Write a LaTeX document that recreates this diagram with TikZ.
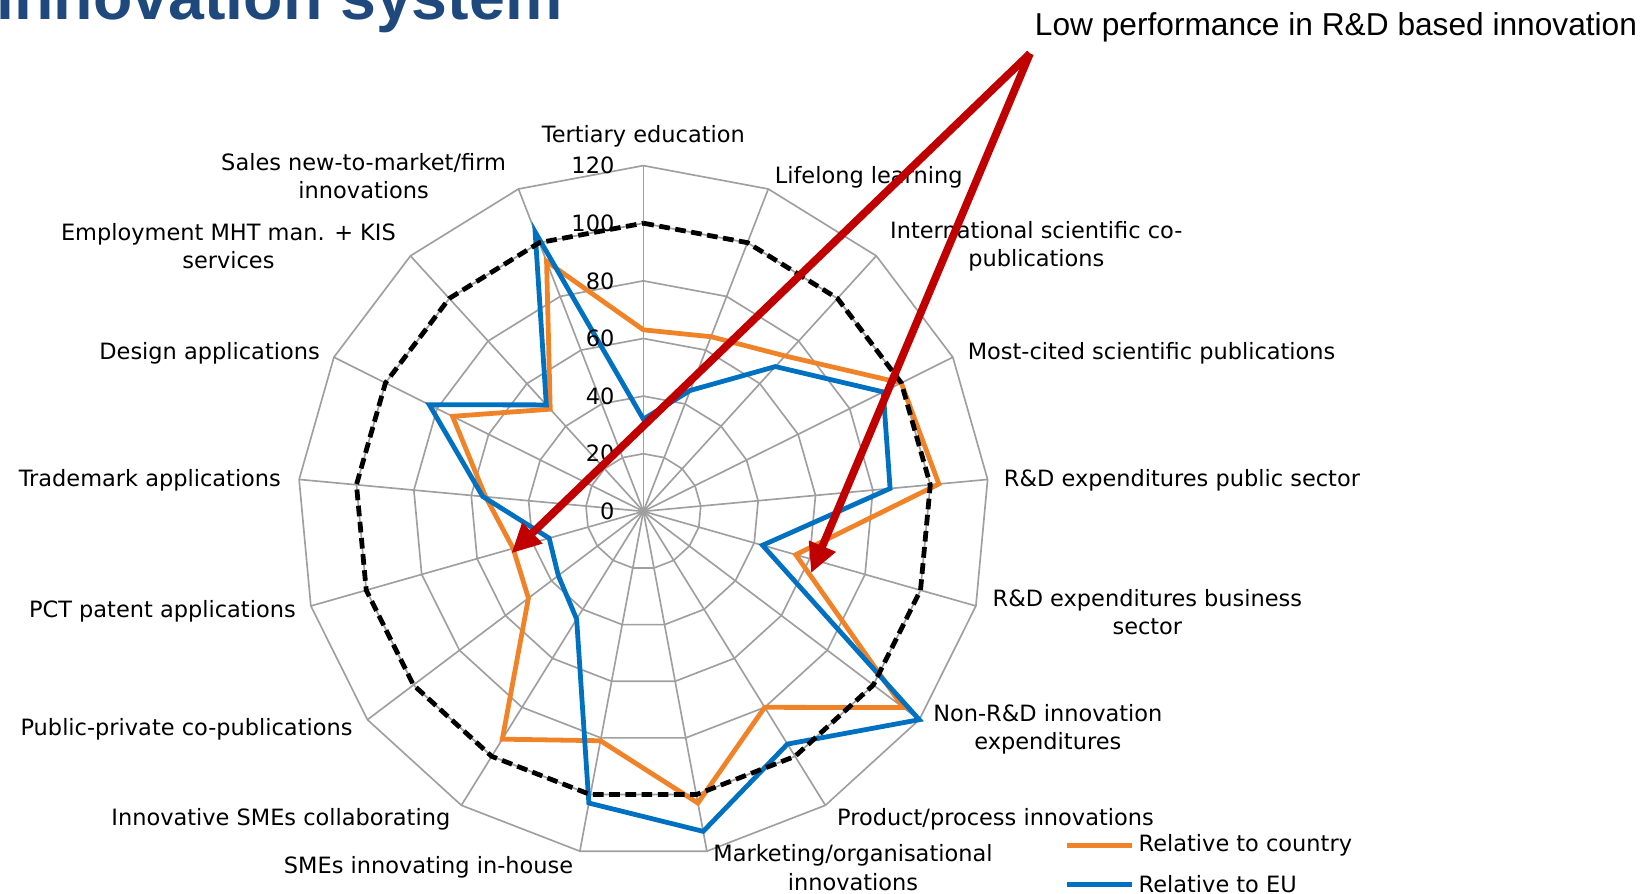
\documentclass[tikz,border=0pt]{standalone}
\usepackage{fontspec}
\setmainfont{DejaVu Sans}
\newfontfamily\arialfont{Liberation Sans}
\usepackage{tikz}
\usetikzlibrary{arrows.meta}
\definecolor{countryorange}{RGB}{240,130,40}
\definecolor{eublue}{RGB}{0,112,192}
\definecolor{arrowred}{RGB}{192,0,0}
\definecolor{titleblue}{RGB}{31,73,125}
\tikzstyle{gridline} = [draw=gray!75, line width=0.45pt]
\tikzstyle{countryline} = [draw=countryorange, line width=1.3pt]
\tikzstyle{euline} = [draw=eublue, line width=1.3pt]
\tikzstyle{refline} = [draw=black, line width=1.3pt, dash pattern=on 2.9pt off 1.5pt]
\tikzstyle{axislabel} = [font=\fontsize{6.1}{7.7}\selectfont, align=center, inner sep=0pt]
\tikzstyle{ticklabel} = [font=\fontsize{6.1}{7}\selectfont, anchor=east, inner sep=0pt]
\tikzstyle{callout} = [draw=arrowred, line width=2.1pt, -{Triangle[length=0.28cm,width=0.26cm]}]

\begin{document}
\begin{tikzpicture}
	\useasboundingbox (0,0) rectangle (15.68,8.53);
	\begin{scope}[shift={(6.14,3.65)}]
		\foreach \k in {0,...,16}
			\draw[gridline] (0,0) -- ({90-\k*360/17}:3.3);
		\foreach \r in {20,40,...,120}
			\draw[gridline] (90:{\r*0.0275}) \foreach \k in {1,...,16}{ -- ({90-\k*360/17}:{\r*0.0275})} -- cycle;
		\foreach \v [count=\k from 0] in {63,65,73,100,103,55,113,80,103,81,93,50,47,55,74,48,93}
			\coordinate (country\k) at ({90-\k*360/17}:{\v*0.0275});
		\foreach \v [count=\k from 0] in {32,45,68,93,86,43,120,95,113,103,44,37,34,56,83,50,104}
			\coordinate (eu\k) at ({90-\k*360/17}:{\v*0.0275});
		\foreach \k in {0,...,16}
			\coordinate (ref\k) at ({90-\k*360/17}:2.75);
		\draw[countryline] (country0) \foreach \k in {1,...,16}{ -- (country\k)} -- cycle;
		\draw[euline] (eu0) \foreach \k in {1,...,16}{ -- (eu\k)} -- cycle;
		\draw[refline] (ref0) \foreach \k in {1,...,16}{ -- (ref\k)} -- cycle;
		\foreach \v in {0,20,...,120}
			\node[ticklabel] (tick\v) at (-0.27,{\v*0.0275}) {\v};
	\end{scope}
	\node[axislabel] (tertiary) at (6.14,7.23) {Tertiary education};
	\node[axislabel] (lifelong) at (8.29,6.84) {Lifelong learning};
	\node[axislabel] (copubs) at (9.89,6.18) {International scientific co-\\publications};
	\node[axislabel] (mostcited) at (10.99,5.16) {Most-cited scientific publications};
	\node[axislabel] (rdpublic) at (11.28,3.95) {R\&D expenditures public sector};
	\node[axislabel] (rdbusiness) at (10.95,2.69) {R\&D expenditures business\\sector};
	\node[axislabel] (nonrd) at (10.00,1.57) {Non-R\&D innovation\\expenditures};
	\node[axislabel] (product) at (9.50,0.71) {Product/process innovations};
	\node[axislabel] (marketing) at (8.14,0.25) {Marketing/organisational\\innovations};
	\node[axislabel] (inhouse) at (4.09,0.25) {SMEs innovating in-house};
	\node[axislabel] (collab) at (2.68,0.71) {Innovative SMEs collaborating};
	\node[axislabel] (pubpriv) at (1.78,1.57) {Public-private co-publications};
	\node[axislabel] (pct) at (1.55,2.70) {PCT patent applications};
	\node[axislabel] (trademark) at (1.43,3.95) {Trademark applications};
	\node[axislabel] (design) at (2.00,5.16) {Design applications};
	\node[axislabel] (employment) at (2.18,6.18) {Employment MHT man. + KIS\\services};
	\node[axislabel] (sales) at (3.47,6.85) {Sales new-to-market/firm\\innovations};
	\node[axislabel, anchor=west] (countrykey) at (10.86,0.46) {Relative to country};
	\node[axislabel, anchor=west] (eukey) at (10.86,0.09) {Relative to EU};
	\draw[countryline] ([xshift=-0.06cm]countrykey.west) -- ++(-0.62,0);
	\draw[euline] ([xshift=-0.06cm]eukey.west) -- ++(-0.62,0);
	\node[anchor=base west, inner sep=0pt, font=\arialfont\bfseries\fontsize{17.5}{20}\selectfont, text=titleblue] (title) at (-0.04,8.34) {innovation system};
	\node[anchor=base west, inner sep=0pt, font=\arialfont\fontsize{8.6}{10}\selectfont] (lowperf) at (9.87,8.19) {Low performance in R\&D based innovation};
	\coordinate (apex) at (9.83,8.02);
	\coordinate (pcttip) at (4.88,3.25);
	\coordinate (rdtip) at (7.74,3.06);
	\draw[callout] (apex) -- (pcttip);
	\draw[callout] (apex) -- (rdtip);
\end{tikzpicture}
\end{document}
